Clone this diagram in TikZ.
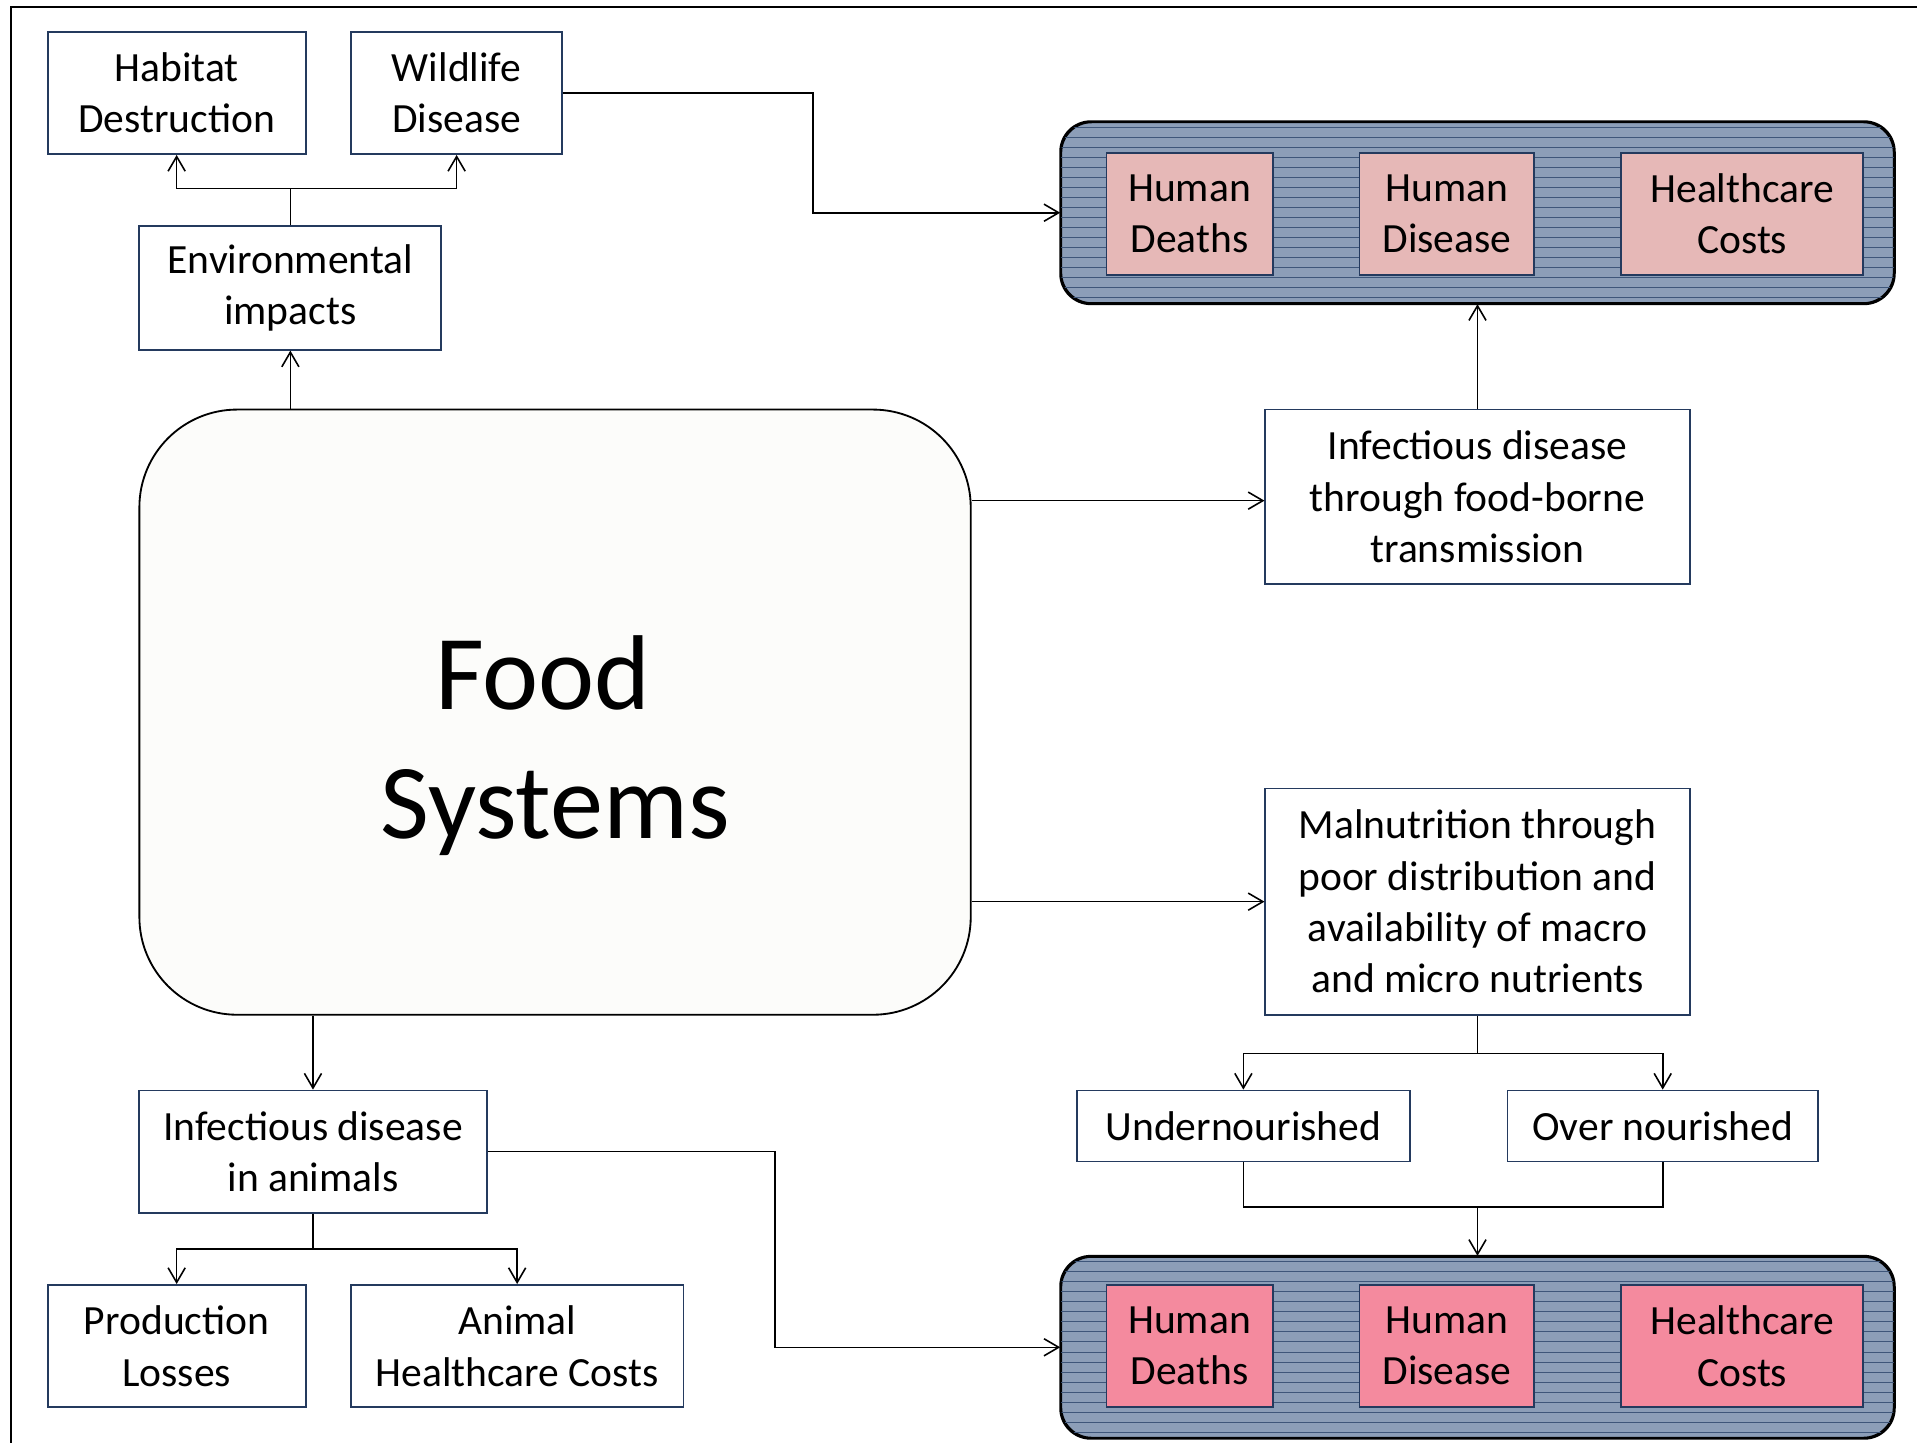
\documentclass[tikz,border=0pt]{standalone}
\usepackage{fontspec}
\usetikzlibrary{arrows.meta,calc}
\newfontfamily\calfont{Carlito}
\newcommand\boxtext{\calfont\fontsize{34}{42}\selectfont}
\newcommand\bigtext{\calfont\fontsize{87}{105}\selectfont}
\definecolor{boxblue}{RGB}{36,58,94}
\definecolor{grpfill}{RGB}{140,158,184}
\definecolor{grpline}{RGB}{62,86,122}
\definecolor{pinkA}{RGB}{230,184,183}
\definecolor{pinkB}{RGB}{244,138,158}
\definecolor{foodfill}{RGB}{252,252,250}
\tikzset{
  box/.style={draw=boxblue, line width=1.5pt, fill=white, align=center, inner sep=0pt, font=\boxtext},
  pbox/.style={box, minimum height=100pt},
  grp/.style={draw=black, line width=1.6pt, fill=grpfill, rounded corners=25pt, minimum width=681pt, minimum height=148pt, inner sep=0pt},
  conn/.style={line width=1.3pt, draw=black},
  arr/.style={conn, -{Straight Barb[length=12pt,width=14pt,line width=1.3pt]}}
}
\begin{document}
\begin{tikzpicture}[x=1pt,y=-1pt]
\useasboundingbox (0,0) rectangle (1568,1180);
% frame
\draw[line width=1.6pt] (9,1180) -- (9,6) -- (1568,6);

% left column
\node[box, minimum width=211pt, minimum height=100pt] (hab) at (144.5,76) {Habitat\\Destruction};
\node[box, minimum width=173pt, minimum height=100pt] (wild) at (373.5,76) {Wildlife\\Disease};
\node[box, minimum width=247pt, minimum height=101pt] (env) at (237.5,235.5) {Environmental\\impacts};
\node[draw=black, line width=1.5pt, fill=foodfill, rounded corners=80pt, minimum width=680pt, minimum height=495pt, inner sep=0pt] (food) at (454,582.5) {};
\node[align=center, font=\bigtext, inner sep=0pt] (foodtxt) at (454,610) {Food\hspace*{20pt}\\Systems};
\node[box, minimum width=284pt, minimum height=100pt] (ida) at (256,942) {Infectious disease\\in animals};
\node[box, minimum width=211pt, minimum height=100pt] (prod) at (144.5,1101) {Production\\Losses};
\node[box, minimum width=272pt, minimum height=100pt] (ahc) at (423,1101) {Animal\\Healthcare Costs};

% right column
\node[box, minimum width=347pt, minimum height=143pt] (ifd) at (1208.5,406.5) {Infectious disease\\through food-borne\\transmission};
\node[box, minimum width=347pt, minimum height=185pt] (mal) at (1208.5,737.5) {Malnutrition through\\poor distribution and\\availability of macro\\and micro nutrients};
\node[box, minimum width=272pt, minimum height=58pt] (under) at (1017,921) {Undernourished};
\node[box, minimum width=254pt, minimum height=58pt] (over) at (1360,921) {Over nourished};

% groups
\node[grp] (grp1) at (1208.5,174) {};
\node[grp] (grp2) at (1208.5,1102) {};
\begin{scope}
\clip[rounded corners=25pt] (grp1.north west) rectangle (grp1.south east);
\foreach \k in {0,...,18} {\draw[grpline, line width=0.7pt] (860,{104+8.2*\k}) -- (1560,{104+8.2*\k});}
\end{scope}
\begin{scope}
\clip[rounded corners=25pt] (grp2.north west) rectangle (grp2.south east);
\foreach \k in {0,...,18} {\draw[grpline, line width=0.7pt] (860,{1032+8.2*\k}) -- (1560,{1032+8.2*\k});}
\end{scope}
\draw[line width=1.6pt, rounded corners=25pt] (grp1.north west) rectangle (grp1.south east);
\draw[line width=1.6pt, rounded corners=25pt] (grp2.north west) rectangle (grp2.south east);

\node[pbox, fill=pinkA, minimum width=136pt] (hd1) at (973,175) {Human\\Deaths};
\node[pbox, fill=pinkA, minimum width=143pt] (hs1) at (1183.5,175) {Human\\Disease};
\node[pbox, fill=pinkA, minimum width=198pt] (hc1) at (1425,175) {Healthcare\\Costs};
\node[pbox, fill=pinkB, minimum width=136pt] (hd2) at (973,1101) {Human\\Deaths};
\node[pbox, fill=pinkB, minimum width=143pt] (hs2) at (1183.5,1101) {Human\\Disease};
\node[pbox, fill=pinkB, minimum width=198pt] (hc2) at (1425,1101) {Healthcare\\Costs};

% connectors
\draw[arr] (env.south |- food.north) -- (env.south);
\draw[conn] (env.north) -- ++(0,-30) coordinate (ej);
\draw[arr] (ej) -| (hab.south);
\draw[arr] (ej) -| (wild.south);
\draw[arr] (wild.east) -- ++(204,0) |- (grp1.west);
\draw[arr] ($(food.east |- ifd.west)+(0,3)$) -- ($(ifd.west)+(0,3)$);
\draw[arr] (ifd.north) -- (ifd.north |- grp1.south);
\draw[arr] (food.east |- mal.west) -- (mal.west);
\draw[conn] (mal.south) -- ++(0,31) coordinate (mj);
\draw[arr] (mj) -| (under.north);
\draw[arr] (mj) -| (over.north);
\coordinate (nj) at ($(grp2.north)+(0,-40)$);
\draw[conn] (under.south) |- (nj) -| (over.south);
\draw[arr] (nj) -- (grp2.north);
\draw[arr] (ida.north |- food.south) -- (ida.north);
\draw[conn] (ida.south) -- ++(0,29) coordinate (aj);
\draw[arr] (aj) -| (prod.north);
\draw[arr] (aj) -| (ahc.north);
\draw[arr] (ida.east) -- ++(235,0) |- (grp2.west);
\end{tikzpicture}
\end{document}
